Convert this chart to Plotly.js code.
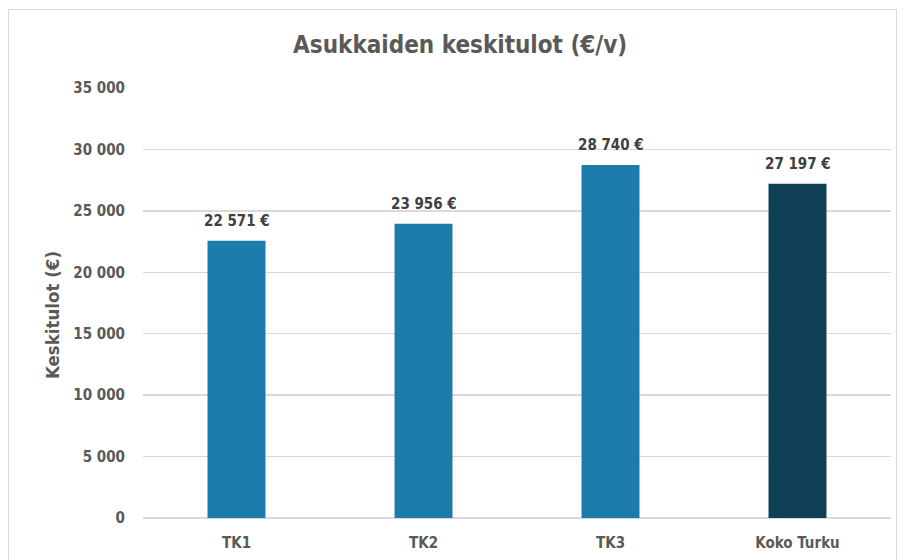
<!DOCTYPE html>
<html>
<head>
<meta charset="utf-8">
<script src="https://cdn.plot.ly/plotly-3.0.1.min.js"></script>
<style>
html,body{margin:0;padding:0;background:#fff;}
#chart{width:904px;height:560px;}
#frame{position:absolute;left:8px;top:9px;width:887px;height:560px;border:1px solid #d9d9d9;pointer-events:none;}
</style>
</head>
<body>
<div id="chart"></div>
<div id="frame"></div>
<script>
var categories = ["TK1", "TK2", "TK3", "Koko Turku"];
var values = [22571, 23956, 28740, 27197];
var barColors = ["#1b7bab", "#1b7bab", "#1b7bab", "#0f3f55"];
var yTicks = [0, 5000, 10000, 15000, 20000, 25000, 30000, 35000];

var FONT = "DejaVu Sans Condensed, Liberation Sans, sans-serif";

var trace = {
  type: "bar",
  x: categories,
  y: values,
  marker: {color: barColors},
  width: 0.31,
  hoverinfo: "none"
};

function fmt(v) {
  return String(v).replace(/\B(?=(\d{3})+(?!\d))/g, " ") + " €";
}

var annotations = categories.map(function (c, i) {
  return {
    x: c, y: values[i], xref: "x", yref: "y",
    text: fmt(values[i]),
    showarrow: false, yanchor: "bottom", yshift: 9,
    font: {family: FONT, size: 15, color: "#404040", weight: "bold"}
  };
});
annotations.push({
  xref: "paper", yref: "paper",
  x: -0.1217, y: 0.472,
  xanchor: "center", yanchor: "middle",
  text: "Keskitulot (€)", textangle: -90, showarrow: false,
  font: {family: FONT, size: 18.5, color: "#595959", weight: "bold"}
});

var layout = {
  width: 904, height: 560,
  margin: {l: 143, r: 13, t: 88, b: 42},
  paper_bgcolor: "#ffffff",
  plot_bgcolor: "#ffffff",
  separators: ", ",
  showlegend: false,
  title: {
    text: "Asukkaiden keskitulot (€/v)",
    x: 0.509, xanchor: "center",
    y: 0.921, yanchor: "middle",
    font: {family: FONT, size: 24, color: "#595959", weight: "bold"}
  },
  xaxis: {
    showgrid: false, zeroline: false, showline: false,
    ticks: "",
    tickfont: {family: FONT, size: 15, color: "#595959", weight: "bold"},
    ticklabelstandoff: 14
  },
  yaxis: {
    range: [0, 35000],
    tickvals: yTicks,
    tickformat: ",d",
    separatethousands: true,
    showgrid: true, gridcolor: "#d9d9d9", gridwidth: 1.5,
    zeroline: true, zerolinecolor: "#d9d9d9", zerolinewidth: 1.5,
    showline: false, ticks: "",
    tickfont: {family: FONT, size: 15, color: "#595959", weight: "bold"},
    ticklabelstandoff: 17
  },
  annotations: annotations
};

Plotly.newPlot("chart", [trace], layout, {displayModeBar: false, staticPlot: true});
</script>
</body>
</html>
